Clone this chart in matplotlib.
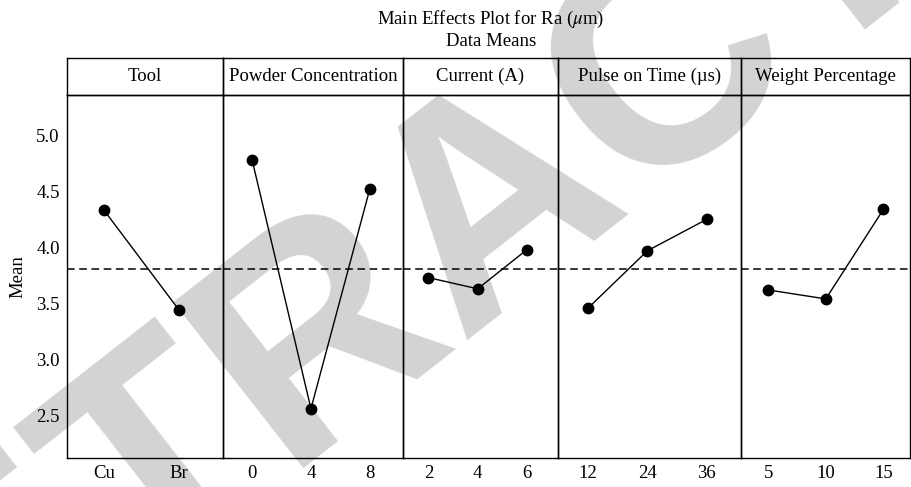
import numpy as np
import matplotlib
matplotlib.use('Agg')
import matplotlib.pyplot as plt

plt.rcParams['font.family'] = ['Liberation Serif', 'DejaVu Serif']
plt.rcParams['mathtext.fontset'] = 'stix'

#=== data ===
factors = ['Tool', 'Powder Concentration', 'Current (A)', 'Pulse on Time (µs)', 'Weight Percentage']
tool_levels    = ['Cu', 'Br']
tool_means     = [4.33, 3.44]
powder_levels  = ['0', '4', '8']
powder_means   = [4.78, 2.56, 4.52]
current_levels = ['2', '4', '6']
current_means  = [3.73, 3.63, 3.98]
pulse_levels   = ['12', '24', '36']
pulse_means    = [3.46, 3.97, 4.25]
weight_levels  = ['5', '10', '15']
weight_means   = [3.62, 3.54, 4.34]
grand_mean     = 3.81

levels = [tool_levels, powder_levels, current_levels, pulse_levels, weight_levels]
means  = [tool_means, powder_means, current_means, pulse_means, weight_means]

# panel widths / x-limits (layout only)
widths = [156.6, 180, 154.2, 183.5, 169]
xlims  = [(-0.5, 1.59), (-0.49, 2.57), (-0.51, 2.62), (-0.52, 2.58), (-0.47, 2.46)]

fig = plt.figure(figsize=(9.11, 4.87), dpi=100)
gs = fig.add_gridspec(2, 5, width_ratios=widths, height_ratios=[36.7, 363],
                      left=66.7/911, right=910/911, bottom=1-458/487, top=1-58.3/487,
                      hspace=0, wspace=0)

# watermark
fig.text(0.545, 0.585, 'RETRACTED', rotation=38, fontsize=220, color='#d3d3d3',
         family='Liberation Sans', fontweight='bold', ha='center', va='center',
         rotation_mode='anchor', zorder=-5)

fs = 13.5
for i in range(5):
    hax = fig.add_subplot(gs[0, i])
    hax.set_facecolor('none')
    hax.set_xticks([]); hax.set_yticks([])
    for s in hax.spines.values():
        s.set_linewidth(1.0)
    hax.text(0.5, 0.5, factors[i], ha='center', va='center', fontsize=fs, transform=hax.transAxes)

    ax = fig.add_subplot(gs[1, i])
    ax.set_facecolor('none')
    x = np.arange(len(levels[i]))
    ax.plot(x, means[i], color='black', lw=1.0, marker='o', ms=7.5, mfc='black', mec='black')
    ax.axhline(grand_mean, color='black', lw=1.1, ls=(0, (5, 3)))
    ax.set_xticks(x)
    ax.set_xticklabels(levels[i])
    ax.set_xlim(*xlims[i])
    ax.set_ylim(2.12, 5.36)
    ax.set_yticks([2.5, 3.0, 3.5, 4.0, 4.5, 5.0])
    ax.tick_params(length=0, labelsize=fs, pad=5)
    for s in ax.spines.values():
        s.set_linewidth(1.0)
    if i == 0:
        ax.set_yticklabels(['2.5', '3.0', '3.5', '4.0', '4.5', '5.0'])
        ax.set_ylabel('Mean', fontsize=fs, labelpad=7)
    else:
        ax.set_yticklabels([])

fig.text(491/911, 1-19/487, r'Main Effects Plot for Ra ($\mu$m)', ha='center', va='center', fontsize=fs)
fig.text(491/911, 1-41/487, 'Data Means', ha='center', va='center', fontsize=fs)

plt.savefig('out.png', dpi=100)
